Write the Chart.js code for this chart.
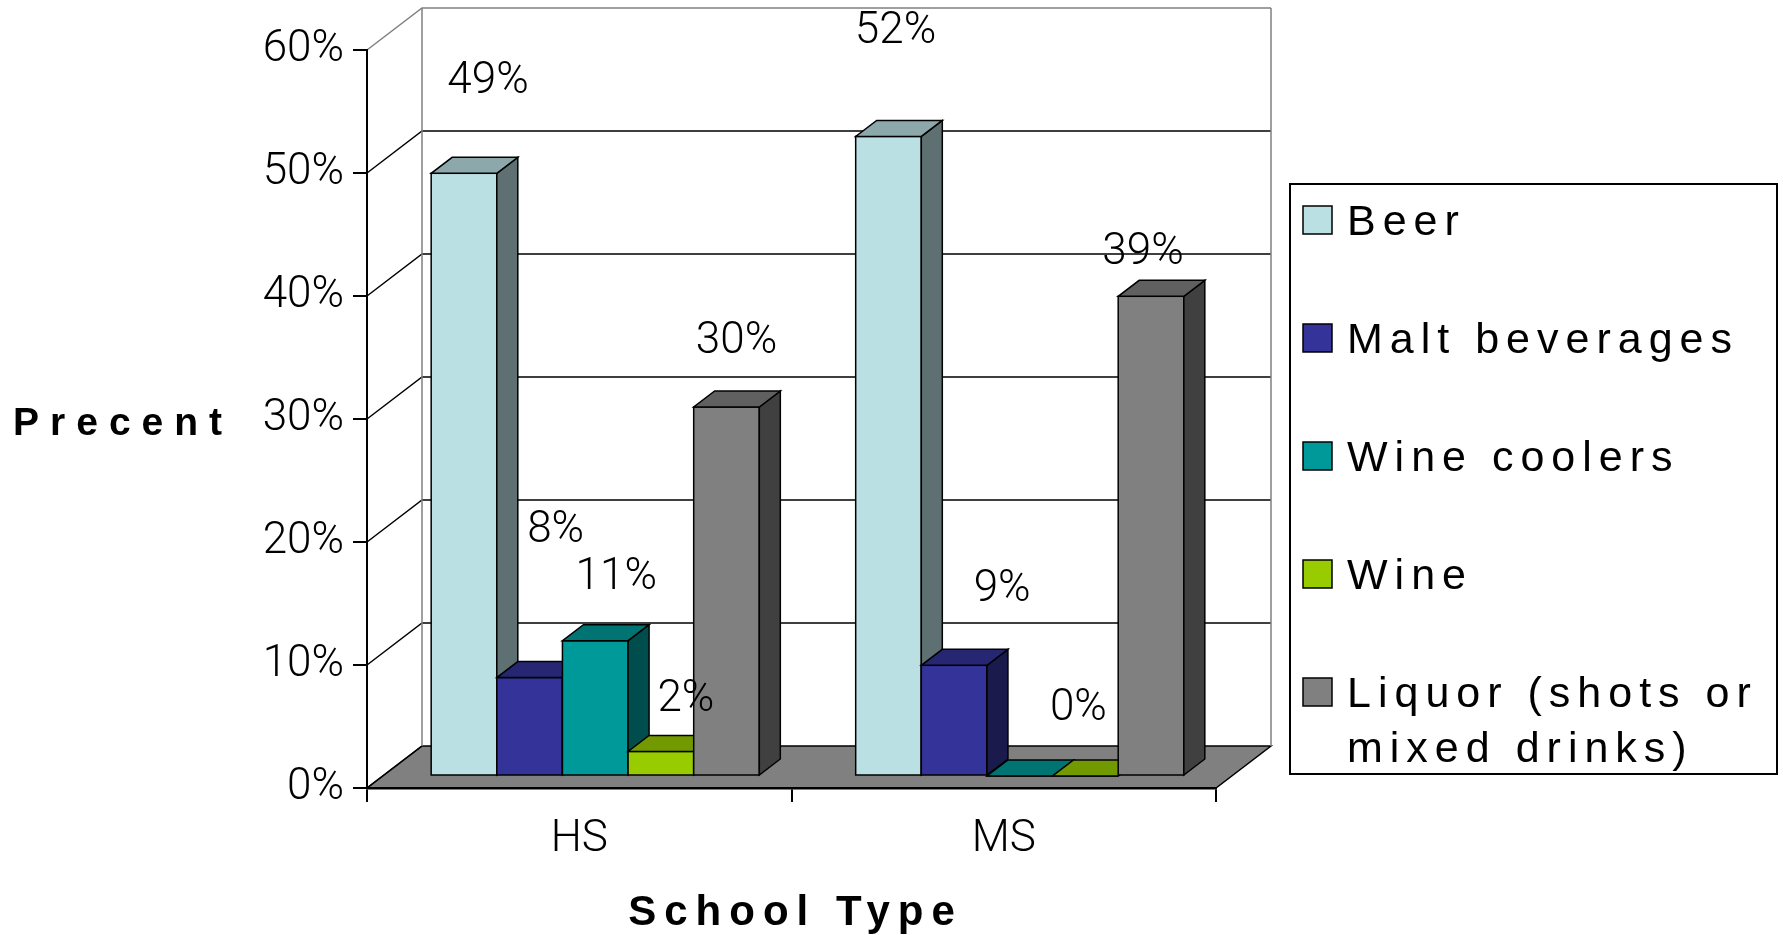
<!DOCTYPE html>
<html lang="en">
<head>
<meta charset="UTF-8">
<title>School Type</title>
<style>
  html, body { margin: 0; padding: 0; background: #fff; }
  #wrap { width: 1783px; height: 935px; position: relative; }
</style>
<script src="https://cdn.jsdelivr.net/npm/chart.js"></script>
</head>
<body>
<div id="wrap"><canvas id="chart"></canvas></div>
<script>
const categories = ['HS', 'MS'];
const seriesNames = ['Beer', 'Malt beverages', 'Wine coolers', 'Wine', 'Liquor (shots or mixed drinks)'];
const beer = [49, 52];
const maltBeverages = [8, 9];
const wineCoolers = [11, 0];
const wine = [2, 0];
const liquor = [30, 39];
const yTickValues = [0, 10, 20, 30, 40, 50, 60];

const colors = ['#BBE0E3', '#333399', '#009999', '#99CC00', '#808080'];

// label nudges [dx, dy] from the top centre of each bar front, hand placed like the original
const labelNudge = [
  [[24, -80], [7, -93]],
  [[26, -136], [48, -64]],
  [[21, -52], null],
  [[25, -40], [-7, -56]],
  [[10, -54], [-8, -32]]
];

const FLOOR = { x: 55, y: 42 };   // depth of the floor / walls
const SHIFT = { x: 16, y: 12 };   // bars sit a bit behind the axis plane
const BAR = { x: 21, y: 16 };     // depth of each bar

const thinFont = 'Roboto';

function shade(hex, f) {
  const n = parseInt(hex.slice(1), 16);
  const r = Math.round((n >> 16 & 255) * f);
  const g = Math.round((n >> 8 & 255) * f);
  const b = Math.round((n & 255) * f);
  return 'rgb(' + r + ',' + g + ',' + b + ')';
}

function poly(ctx, pts, fill) {
  ctx.beginPath();
  ctx.moveTo(pts[0][0], pts[0][1]);
  for (let i = 1; i < pts.length; i++) ctx.lineTo(pts[i][0], pts[i][1]);
  ctx.closePath();
  ctx.fillStyle = fill;
  ctx.fill();
  ctx.stroke();
}

const threeD = {
  id: 'threeD',
  beforeDraw(chart) {
    const { ctx, chartArea: a, scales: { y } } = chart;
    ctx.save();
    // floor
    ctx.strokeStyle = '#000';
    ctx.lineWidth = 1.5;
    poly(ctx, [[a.left, a.bottom], [a.right, a.bottom], [a.right + FLOOR.x, a.bottom - FLOOR.y], [a.left + FLOOR.x, a.bottom - FLOOR.y]], '#808080');
    // gridlines on side and back wall
    y.ticks.forEach(t => {
      const py = y.getPixelForValue(t.value);
      ctx.strokeStyle = t.value === y.max ? '#808080' : '#000';
      ctx.beginPath();
      ctx.moveTo(a.left, py);
      ctx.lineTo(a.left + FLOOR.x, py - FLOOR.y);
      if (t.value !== y.min) ctx.lineTo(a.right + FLOOR.x, py - FLOOR.y);
      ctx.stroke();
    });
    ctx.strokeStyle = '#808080';
    ctx.beginPath();
    ctx.moveTo(a.left + FLOOR.x, a.bottom - FLOOR.y);
    ctx.lineTo(a.left + FLOOR.x, a.top - FLOOR.y);
    ctx.moveTo(a.right + FLOOR.x, a.bottom - FLOOR.y);
    ctx.lineTo(a.right + FLOOR.x, a.top - FLOOR.y);
    ctx.stroke();
    ctx.restore();
  },
  beforeDatasetDraw() {
    return false; // bars are drawn below, left to right, with their 3D faces
  },
  afterDatasetsDraw(chart) {
    const ctx = chart.ctx;
    const metas = chart.data.datasets.map((d, i) => chart.getDatasetMeta(i));
    ctx.save();
    ctx.translate(SHIFT.x, -SHIFT.y);
    categories.forEach((c, i) => {
      metas.forEach((meta, k) => {
        const bar = meta.data[i];
        const p = bar.getProps(['x', 'y', 'base', 'width'], true);
        const l = p.x - p.width / 2, r = p.x + p.width / 2;
        bar.draw(ctx);
        ctx.save();
        ctx.strokeStyle = '#000';
        ctx.lineWidth = 1.5;
        ctx.strokeRect(l, p.y, p.width, p.base - p.y);
        poly(ctx, [[r, p.y], [r + BAR.x, p.y - BAR.y], [r + BAR.x, p.base - BAR.y], [r, p.base]], shade(colors[k], 0.5));
        poly(ctx, [[l, p.y], [r, p.y], [r + BAR.x, p.y - BAR.y], [l + BAR.x, p.y - BAR.y]], shade(colors[k], 0.75));
        ctx.restore();
      });
    });
    // value labels
    ctx.font = '300 44px ' + thinFont;
    ctx.fillStyle = '#000';
    ctx.textAlign = 'center';
    ctx.textBaseline = 'alphabetic';
    metas.forEach((meta, k) => {
      meta.data.forEach((bar, i) => {
        const nudge = labelNudge[k][i];
        if (!nudge) return;
        const v = chart.data.datasets[k].data[i];
        ctx.fillText(v + '%', bar.x + nudge[0], bar.y + nudge[1]);
      });
    });
    ctx.restore();
  },
  afterDraw(chart) {
    const { ctx, chartArea: a } = chart;
    ctx.save();
    ctx.fillStyle = '#000';
    // axis titles
    ctx.font = 'bold 39px "Liberation Sans", Arial';
    ctx.letterSpacing = '11px';
    ctx.textAlign = 'left';
    ctx.fillText('Precent', 13, 435);
    ctx.font = 'bold 42px "Liberation Sans", Arial';
    ctx.letterSpacing = '8px';
    ctx.textAlign = 'center';
    ctx.fillText('School Type', (a.left + a.right) / 2 + 4, 925);

    // legend
    const box = { left: 1290, top: 184, right: 1777, bottom: 774 };
    ctx.strokeStyle = '#000';
    ctx.lineWidth = 2;
    ctx.strokeRect(box.left, box.top, box.right - box.left, box.bottom - box.top);
    ctx.font = '43px "Liberation Sans", Arial';
    ctx.letterSpacing = '7px';
    ctx.textAlign = 'left';
    const maxW = box.right - 1347 - 4;
    chart.data.datasets.forEach((d, i) => {
      const top = 206 + i * 118;
      ctx.fillStyle = d.backgroundColor;
      ctx.fillRect(1303, top, 29, 28);
      ctx.lineWidth = 1.5;
      ctx.strokeRect(1303, top, 29, 28);
      ctx.fillStyle = '#000';
      const words = d.label.split(' ');
      const lines = [];
      let line = '';
      words.forEach(w => {
        const test = line ? line + ' ' + w : w;
        if (line && ctx.measureText(test).width > maxW) {
          lines.push(line);
          line = w;
        } else {
          line = test;
        }
      });
      lines.push(line);
      lines.forEach((ln, j) => ctx.fillText(ln, 1347, top + 29 + j * 55));
    });
    ctx.restore();
  }
};

const seriesValues = [beer, maltBeverages, wineCoolers, wine, liquor];

new Chart(document.getElementById('chart'), {
  type: 'bar',
  data: {
    labels: categories,
    datasets: seriesNames.map((name, i) => ({
      label: name,
      data: seriesValues[i],
      backgroundColor: colors[i],
      borderColor: '#000',
      borderWidth: 0,
      borderSkipped: false,
      categoryPercentage: 0.773,
      barPercentage: 1.0,
      clip: false
    }))
  },
  options: {
    responsive: true,
    maintainAspectRatio: false,
    animation: false,
    layout: { padding: { left: 0, top: 50, right: 567, bottom: 0 } },
    plugins: {
      legend: { display: false },
      tooltip: { enabled: false }
    },
    scales: {
      x: {
        offset: true,
        grid: { offset: true, drawOnChartArea: false, color: '#000', lineWidth: 2, tickLength: 14 },
        border: { display: true, color: '#000', width: 2.5 },
        ticks: { color: '#000', padding: 12, font: { family: thinFont, weight: '300', size: 44 } },
        afterFit(scale) { scale.height = 147; }
      },
      y: {
        min: 0,
        max: 60,
        afterBuildTicks(scale) { scale.ticks = yTickValues.map(v => ({ value: v })); },
        grid: { drawOnChartArea: false, color: '#000', lineWidth: 2, tickLength: 14 },
        border: { display: true, color: '#000', width: 2 },
        ticks: {
          color: '#000',
          padding: 9,
          font: { family: thinFont, weight: '300', size: 44 },
          callback: v => v + '%'
        },
        afterFit(scale) { scale.width = 367; }
      }
    }
  },
  plugins: [threeD]
});
</script>
</body>
</html>
